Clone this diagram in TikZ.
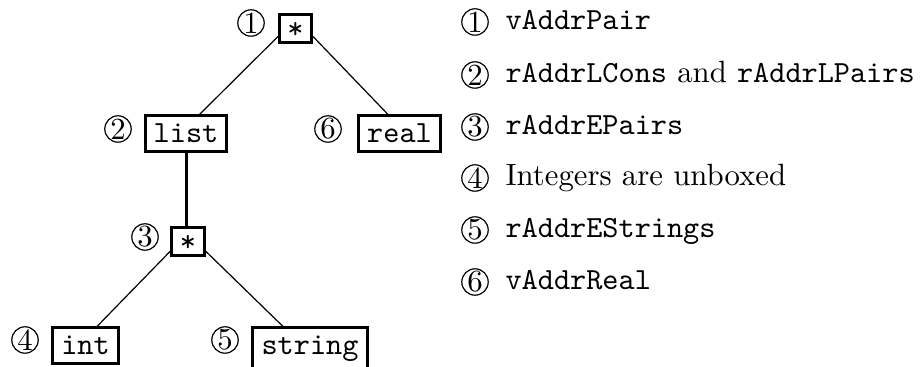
\documentclass[tikz,border=0pt]{standalone}
\begin{document}
\fontsize{10.25pt}{12.3pt}\selectfont
\begin{tikzpicture}[x=0.33333pt,y=-0.33333pt,
  cn/.style={circle,draw,line width=0.4pt,minimum size=8.8pt,inner sep=0pt},
  tbox/.style={draw,line width=1pt,font=\ttfamily,inner xsep=2.9pt,inner ysep=2.8pt,
               text height=6.2pt,text depth=0pt,anchor=north},
  sbox/.style={draw,line width=1pt,font=\ttfamily,minimum width=10.67pt,
               minimum height=9.33pt,inner sep=0pt,text height=6.1pt,text depth=0pt,anchor=north},
  thinline/.style={line width=0.4pt},
  thickline/.style={line width=1pt},
  legtext/.style={anchor=base west,inner sep=0pt}]
\useasboundingbox (0,0) rectangle (921,367);
% tree boxes
\node[sbox] (root) at (295.5,13.5) {*};
\node[tbox] (list) at (186,114.5) {list};
\node[tbox] (real) at (399.5,114.5) {real};
\node[sbox] (s3) at (188,226.5) {*};
\node[tbox] (int) at (85.5,326.5) {int};
\node[tbox,text depth=2.2pt] (str) at (310,326.5) {string};
% circled numbers in the tree
\node[cn] (c1) at (251,23) {1};
\node[cn] (c2) at (118,129) {2};
\node[cn] (c6) at (328,129) {6};
\node[cn] (c3) at (145,237) {3};
\node[cn] (c4) at (25,340) {4};
\node[cn] (c5) at (225,340) {5};
% connectors
\draw[thinline] ([yshift=-2.5pt]root.west) -- ([xshift=4.5pt]list.north);
\draw[thinline] ([yshift=-2.5pt]root.east) -- ([xshift=-3.83pt]real.north);
\draw[thickline] (list.south) -- (list.south |- s3.north);
\draw[thinline] ([yshift=-3pt]s3.west) -- ([xshift=3.83pt]int.north);
\draw[thinline] ([yshift=-3pt]s3.east) -- ([xshift=-9pt]str.north);
% legend
\node[cn] (l1) at (475,22) {1};
\node[cn] (l2) at (475,75) {2};
\node[cn] (l3) at (475,127) {3};
\node[cn] (l4) at (475,178) {4};
\node[cn] (l5) at (475,230) {5};
\node[cn] (l6) at (475,282) {6};
\node[legtext] (t1) at (505,30) {\texttt{vAddrPair}};
\node[legtext] (t2) at (505,83) {\texttt{rAddrLCons} and \texttt{rAddrLPairs}};
\node[legtext] (t3) at (505,135) {\texttt{rAddrEPairs}};
\node[legtext] (t4) at (505,186) {Integers are unboxed};
\node[legtext] (t5) at (505,238) {\texttt{rAddrEStrings}};
\node[legtext] (t6) at (505,290) {\texttt{vAddrReal}};
\end{tikzpicture}
\end{document}
